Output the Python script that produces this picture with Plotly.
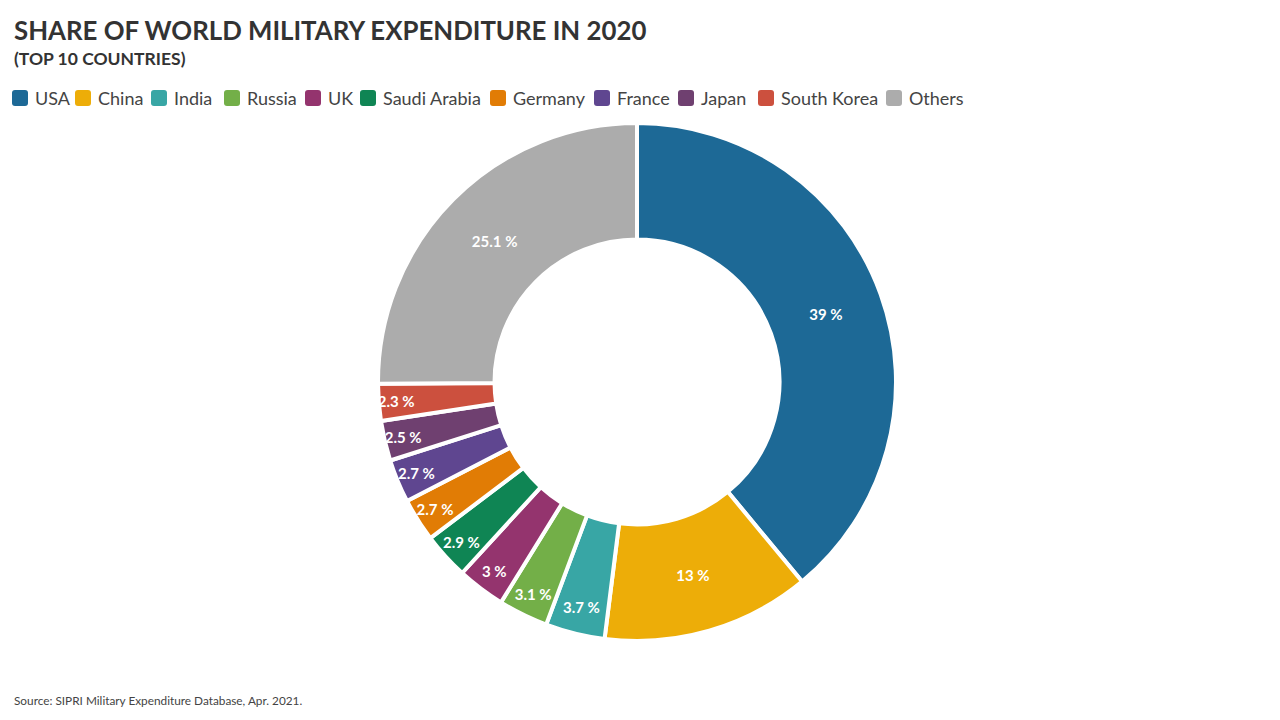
import plotly.graph_objects as go

countries = ["USA", "China", "India", "Russia", "UK", "Saudi Arabia", "Germany",
             "France", "Japan", "South Korea", "Others"]
shares = [39, 13, 3.7, 3.1, 3, 2.9, 2.7, 2.7, 2.5, 2.3, 25.1]
colors = ["#1D6996", "#EDAD08", "#38A6A5", "#73AF48", "#94346E", "#0F8554",
          "#E17C05", "#5F4690", "#6F4070", "#CC503E", "#ACACAC"]
labels_text = [f"{v:g} %" for v in shares]

# legend layout (pixel x of each legend label's text start)
legend_text_x = [33, 96, 172, 245, 326, 381, 511, 615, 699, 779, 907]

W, H = 1280, 720
cx, cy, R = 637, 382, 259

fig = go.Figure(go.Pie(
    labels=countries,
    values=shares,
    text=labels_text,
    textinfo="text",
    textposition="inside",
    insidetextorientation="horizontal",
    insidetextfont=dict(family="Lato", size=15, color="white", weight="bold"),
    hole=0.55,
    sort=False,
    direction="clockwise",
    rotation=0,
    marker=dict(colors=colors, line=dict(color="white", width=4)),
    domain=dict(x=[(cx - R) / W, (cx + R) / W], y=[1 - (cy + R) / H, 1 - (cy - R) / H]),
    hoverinfo="label+text",
    showlegend=False,
))


def px_x(x):
    return x / W


def px_y(y):
    return 1 - y / H


def rounded_square(x0, y0, size, r):
    x1, y1 = x0 + size, y0 + size
    pts = [
        f"M {px_x(x0 + r)},{px_y(y0)}",
        f"L {px_x(x1 - r)},{px_y(y0)}",
        f"Q {px_x(x1)},{px_y(y0)} {px_x(x1)},{px_y(y0 + r)}",
        f"L {px_x(x1)},{px_y(y1 - r)}",
        f"Q {px_x(x1)},{px_y(y1)} {px_x(x1 - r)},{px_y(y1)}",
        f"L {px_x(x0 + r)},{px_y(y1)}",
        f"Q {px_x(x0)},{px_y(y1)} {px_x(x0)},{px_y(y1 - r)}",
        f"L {px_x(x0)},{px_y(y0 + r)}",
        f"Q {px_x(x0)},{px_y(y0)} {px_x(x0 + r)},{px_y(y0)}",
        "Z",
    ]
    return " ".join(pts)


legend_y = 98
shapes = []
annotations = []
for name, col, tx in zip(countries, colors, legend_text_x):
    shapes.append(dict(type="path", xref="paper", yref="paper",
                       path=rounded_square(tx - 21, legend_y - 8, 16, 3),
                       fillcolor=col, line=dict(width=0)))
    annotations.append(dict(text=name, x=px_x(tx), y=px_y(legend_y),
                            xref="paper", yref="paper", xanchor="left", yanchor="middle",
                            showarrow=False,
                            font=dict(size=18, color="#444444", family="Lato")))

annotations += [
    dict(text="<b>SHARE OF WORLD MILITARY EXPENDITURE IN 2020</b>",
         x=px_x(12), y=px_y(30), xref="paper", yref="paper",
         xanchor="left", yanchor="middle", showarrow=False,
         font=dict(size=25.8, color="#333333", family="Lato")),
    dict(text="<b>(TOP 10 COUNTRIES)</b>",
         x=px_x(12), y=px_y(58), xref="paper", yref="paper",
         xanchor="left", yanchor="middle", showarrow=False,
         font=dict(size=17.5, color="#333333", family="Lato")),
    dict(text="Source: SIPRI Military Expenditure Database, Apr. 2021.",
         x=px_x(12), y=px_y(700), xref="paper", yref="paper",
         xanchor="left", yanchor="middle", showarrow=False,
         font=dict(size=11.8, color="#444444", family="Lato")),
]

fig.update_layout(
    width=W, height=H,
    margin=dict(l=0, r=0, t=0, b=0),
    paper_bgcolor="white",
    plot_bgcolor="white",
    font=dict(family="Lato", color="#333333"),
    uniformtext=dict(minsize=15, mode="show"),
    showlegend=False,
    shapes=shapes,
    annotations=annotations,
)

fig.write_html("out.html")
